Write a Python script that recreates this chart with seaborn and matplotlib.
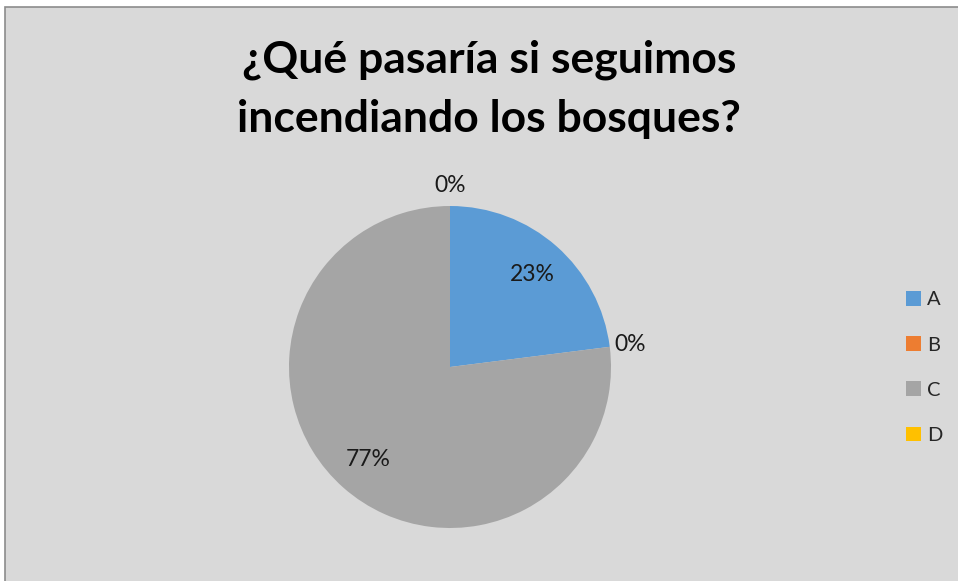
import numpy as np
import matplotlib
matplotlib.use("Agg")
import matplotlib.pyplot as plt
from matplotlib.patches import Patch, Rectangle
import seaborn as sns

# data
categories = ["A", "B", "C", "D"]
shares = [23, 0, 77, 0]
slice_colors = ["#5b9bd5", "#ed7d31", "#a5a5a5", "#ffc000"]
title_lines = ["¿Qué pasaría si seguimos", "incendiando los bosques?"]

sns.set_theme(style="white")
plt.rcParams["font.family"] = ["Lato", "DejaVu Sans"]

W, H = 958, 581
fig = plt.figure(figsize=(W / 100, H / 100), dpi=100, facecolor="white")

# chart area with grey fill and border (cropped at right/bottom)
fig.patches.append(Rectangle((4.5 / W, -0.01), 1.02, 1 - 7.5 / H + 0.01,
                             transform=fig.transFigure, facecolor="#d9d9d9",
                             edgecolor="#8c8c8c", linewidth=1.2, zorder=-1))

cx, cy, r = 450, 367, 161
ax = fig.add_axes([(cx - r) / W, (H - cy - r) / H, 2 * r / W, 2 * r / H])
ax.set_facecolor("none")

wedges, _ = ax.pie(shares, colors=slice_colors, startangle=90, counterclock=False,
                   radius=1, wedgeprops=dict(linewidth=0))
ax.set_xlim(-1, 1)
ax.set_ylim(-1, 1)
ax.set_aspect("equal")
ax.axis("off")

total = sum(shares)
for w, val in zip(wedges, shares):
    mid = np.deg2rad((w.theta1 + w.theta2) / 2)
    dist = 0.77 if val > 0 else 1.13
    ax.text(dist * np.cos(mid), dist * np.sin(mid), f"{round(100 * val / total)}%",
            ha="center", va="center", fontsize=16.5, color="#1a1a1a")

# title, one text per line so baselines sit where the reference has them
for line, base_y in zip(title_lines, [73, 132]):
    fig.text(489 / W, 1 - base_y / H, line, ha="center", va="baseline",
             fontsize=32, fontweight="bold", color="black")

handles = [Patch(facecolor=c, edgecolor="none") for c in slice_colors]
fig.legend(handles, categories, loc="center left",
           bbox_to_anchor=(906 / W, 1 - 367.5 / H), frameon=False,
           fontsize=14.5, handlelength=0.75, handleheight=0.75,
           handletextpad=0.3, labelspacing=1.38, borderpad=0, borderaxespad=0)

fig.savefig("out.png", dpi=100, facecolor="white")
